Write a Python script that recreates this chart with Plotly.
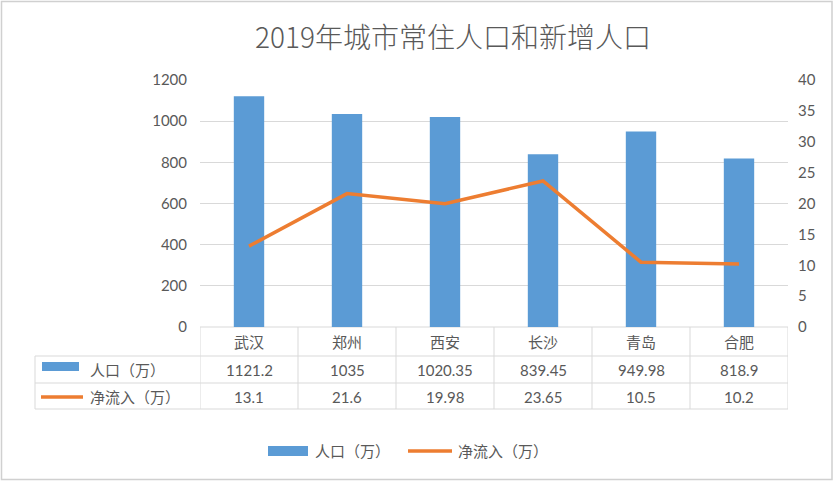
import plotly.graph_objects as go

title = "2019年城市常住人口和新增人口"
cities = ["武汉", "郑州", "西安", "长沙", "青岛", "合肥"]
population = [1121.2, 1035, 1020.35, 839.45, 949.98, 818.9]
net_inflow = [13.1, 21.6, 19.98, 23.65, 10.5, 10.2]
pop_name = "人口（万）"
inflow_name = "净流入（万）"
left_ticks = [0, 200, 400, 600, 800, 1000, 1200]
right_ticks = [0, 5, 10, 15, 20, 25, 30, 35, 40]

BLUE = "#5B9BD5"
ORANGE = "#ED7D31"
TXT = "#595959"
GRID = "#D9D9D9"
FONT = "Lato, Noto Sans CJK SC, sans-serif"
CJK = "Noto Sans CJK SC, sans-serif"

W, H = 834, 482
L, R, T, B = 200, 46, 80, 155
PW, PH = W - L - R, H - T - B


def px(xp):
    return (xp - L) / PW


def py(yp):
    return (H - B - yp) / PH


fig = go.Figure()
fig.add_trace(go.Bar(x=list(range(len(cities))), y=population, name=pop_name,
                     marker=dict(color=BLUE, line=dict(width=0)), width=0.31,
                     yaxis="y", showlegend=False))
fig.add_trace(go.Scatter(x=list(range(len(cities))), y=net_inflow, name=inflow_name,
                         mode="lines", line=dict(color=ORANGE, width=3.5),
                         yaxis="y2", showlegend=False))

shapes = []
annotations = []


def label(x, y, text, xref="paper", xanchor="center", font=CJK, size=15):
    annotations.append(dict(x=x, y=y, xref=xref, yref="paper", text=text, showarrow=False,
                            xanchor=xanchor, yanchor="middle",
                            font=dict(family=font, size=size, color=TXT)))


# table lines
row_lines = [327, 356, 383, 409]
for i, yl in enumerate(row_lines):
    x0 = px(200) if i == 0 else px(35)
    shapes.append(dict(type="line", xref="paper", yref="paper", x0=x0, x1=1,
                       y0=py(yl), y1=py(yl), line=dict(color=GRID, width=1), layer="below"))
shapes.append(dict(type="line", xref="paper", yref="paper", x0=px(35), x1=px(35),
                   y0=py(356), y1=py(409), line=dict(color=GRID, width=1)))
for k in range(len(cities) + 1):
    shapes.append(dict(type="line", xref="x", yref="paper", x0=k - 0.5, x1=k - 0.5,
                       y0=py(327), y1=py(409), line=dict(color=GRID, width=1)))

# table text
for k, c in enumerate(cities):
    label(k, py(341), c, xref="x")
    label(k, py(369.5), f"{population[k]:g}", xref="x", font=FONT)
    label(k, py(396.5), f"{net_inflow[k]:g}", xref="x", font=FONT)

# table legend keys
shapes.append(dict(type="rect", xref="paper", yref="paper", x0=px(42), x1=px(79),
                   y0=py(371), y1=py(362), fillcolor=BLUE, line=dict(width=0)))
shapes.append(dict(type="line", xref="paper", yref="paper", x0=px(41), x1=px(83),
                   y0=py(397), y1=py(397), line=dict(color=ORANGE, width=3.5)))
label(px(88), py(369.5), pop_name, xanchor="left")
label(px(88), py(396.5), inflow_name, xanchor="left")

# bottom legend
shapes.append(dict(type="rect", xref="paper", yref="paper", x0=px(268), x1=px(308),
                   y0=py(456), y1=py(446), fillcolor=BLUE, line=dict(width=0)))
shapes.append(dict(type="line", xref="paper", yref="paper", x0=px(408), x1=px(452),
                   y0=py(451), y1=py(451), line=dict(color=ORANGE, width=3.5)))
label(px(313), py(451), pop_name, xanchor="left")
label(px(456), py(451), inflow_name, xanchor="left")

# outer border
shapes.append(dict(type="rect", xref="paper", yref="paper", x0=px(1.5), x1=px(832),
                   y0=py(479.5), y1=py(1.5), line=dict(color="#D0D0D0", width=1.5)))

fig.update_layout(
    width=W, height=H,
    margin=dict(l=L, r=R, t=T, b=B, autoexpand=False),
    paper_bgcolor="white", plot_bgcolor="white",
    title=dict(text=title, x=453 / W, xanchor="center", y=1 - 38 / H, yanchor="middle",
               font=dict(family=CJK, size=28, color=TXT, weight=300)),
    xaxis=dict(range=[-0.5, len(cities) - 0.5], showticklabels=False, showgrid=False,
               zeroline=False, showline=False, ticks=""),
    yaxis=dict(range=[0, 1200], tickvals=left_ticks, showgrid=True, gridcolor=GRID,
               gridwidth=1, zeroline=False, showline=False, ticks="", ticklabelstandoff=12,
               tickfont=dict(family=FONT, size=15, color=TXT)),
    yaxis2=dict(range=[0, 40], tickvals=right_ticks, overlaying="y", side="right",
                showgrid=False, zeroline=False, showline=False, ticks="", ticklabelstandoff=9,
                tickfont=dict(family=FONT, size=15, color=TXT)),
    shapes=shapes, annotations=annotations, showlegend=False,
)

fig.write_html("out.html", config={"displayModeBar": False},
               post_script="document.body.style.margin='0';document.body.style.overflow='hidden';")
